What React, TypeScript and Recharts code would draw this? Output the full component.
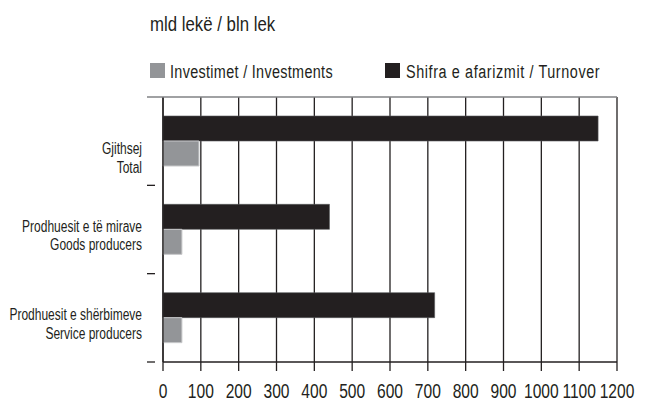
import { BarChart, Bar, XAxis, YAxis, CartesianGrid } from 'recharts'

const categoriesAl = ['Gjithsej', 'Prodhuesit e të mirave', 'Prodhuesit e shërbimeve']
const categoriesEn = ['Total', 'Goods producers', 'Service producers']
const turnover = [1150, 440, 718]
const investments = [95, 50, 50]
const xTicks = [0, 100, 200, 300, 400, 500, 600, 700, 800, 900, 1000, 1100, 1200]

// no narrow font installed, so Liberation Sans gets squeezed horizontally
const FONT = '"Liberation Sans", Arial, sans-serif'
const NARROW = 0.8
const DARK = '#231f20'
const GRAY = '#939598'

const data = categoriesAl.map((name, i) => ({
  name,
  en: categoriesEn[i],
  turnover: turnover[i],
  investments: investments[i]
}))

const CHART_W = 651
const CHART_H = 403
const MARGIN = { top: 97, right: 34, bottom: 0, left: 0 }
const PLOT_RIGHT = CHART_W - MARGIN.right
const PLOT_H = 265
const BAND = PLOT_H / categoriesAl.length

const CategoryTick = ({ x, y, payload, index }: any) => {
  const row = data[index] || data.find((d) => d.name === payload.value)
  // in the original the first label sits a bit lower than the others
  const shift = index === 0 ? 11 : 0
  return (
    <g>
      {index === 0 ? (
        <line x1={x - 8} x2={PLOT_RIGHT} y1={y - BAND / 2} y2={y - BAND / 2} stroke="#808285" strokeWidth={1.3} />
      ) : (
        <line x1={x - 8} x2={x} y1={y - BAND / 2} y2={y - BAND / 2} stroke={DARK} strokeWidth={1.3} />
      )}
      {index === data.length - 1 && (
        <line x1={x - 8} x2={x} y1={y + BAND / 2} y2={y + BAND / 2} stroke={DARK} strokeWidth={1.3} />
      )}
      <g transform={`translate(${x - 13},${y + shift})`}>
        <text transform="scale(0.75,1)" textAnchor="end" fontFamily={FONT} fontSize={16} fill={DARK}>
          <tspan x={0} y={2}>{payload.value}</tspan>
          <tspan x={0} y={21}>{row ? row.en : ''}</tspan>
        </text>
      </g>
    </g>
  )
}

const ValueTick = ({ x, y, payload }: any) => (
  <g transform={`translate(${x},${y})`}>
    <text transform={`scale(${NARROW},1)`} textAnchor="middle" y={25} fontFamily={FONT} fontSize={19.5} fill={DARK}>
      {payload.value}
    </text>
  </g>
)

const squeezed = (size: number, scale = NARROW) => ({
  position: 'absolute' as const,
  fontFamily: FONT,
  fontSize: size,
  lineHeight: `${size}px`,
  color: DARK,
  whiteSpace: 'nowrap' as const,
  transform: `scaleX(${scale})`,
  transformOrigin: 'left top'
})

export default function App() {
  return (
    <div style={{ position: 'absolute', left: 0, top: 0, width: CHART_W, height: CHART_H, background: '#fff' }}>
      <div style={{ ...squeezed(20, 0.84), left: 150, top: 14 }}>mld lekë / bln lek</div>
      <span style={{ position: 'absolute', left: 150, top: 63, width: 15, height: 15, background: GRAY }} />
      <div style={{ ...squeezed(18), left: 170, top: 63, letterSpacing: 0.4 }}>Investimet / Investments</div>
      <span style={{ position: 'absolute', left: 385, top: 63, width: 15, height: 15, background: DARK }} />
      <div style={{ ...squeezed(18), left: 406, top: 63, letterSpacing: 0.75 }}>Shifra e afarizmit / Turnover</div>
      <BarChart
        width={CHART_W}
        height={CHART_H}
        data={data}
        layout="vertical"
        margin={MARGIN}
        barGap={0}
        style={{ position: 'absolute', left: 0, top: 0 }}
      >
        <CartesianGrid horizontal={false} stroke={DARK} strokeWidth={1.3} />
        <XAxis
          type="number"
          domain={[0, 1200]}
          ticks={xTicks}
          interval={0}
          height={41}
          axisLine={{ stroke: DARK, strokeWidth: 1.3 }}
          tickLine={{ stroke: DARK, strokeWidth: 1.3 }}
          tickSize={9}
          tickMargin={2}
          tick={<ValueTick />}
        />
        <YAxis
          type="category"
          dataKey="name"
          width={163}
          axisLine={{ stroke: DARK, strokeWidth: 1.3 }}
          tickLine={false}
          tick={<CategoryTick />}
          interval={0}
        />
        <Bar dataKey="turnover" fill={DARK} stroke="#58595b" strokeWidth={0.6} barSize={25} isAnimationActive={false} />
        <Bar dataKey="investments" fill={GRAY} stroke="#c7c8ca" strokeWidth={1} barSize={25} isAnimationActive={false} />
      </BarChart>
    </div>
  )
}
